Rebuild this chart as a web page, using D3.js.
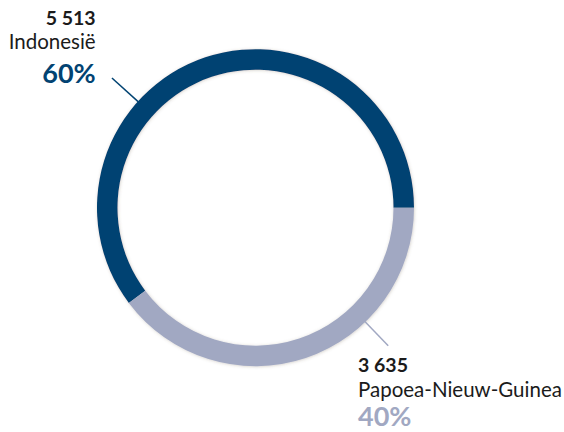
<!DOCTYPE html>
<html>
<head>
<meta charset="utf-8">
<script src="https://cdn.jsdelivr.net/npm/d3@7"></script>
<style>
  html, body { margin: 0; padding: 0; background: #ffffff; }
  svg { display: block; }
  text { font-family: Lato, "Open Sans", sans-serif; }
</style>
</head>
<body>
<div id="chart"></div>
<script>
const categories = ["Indonesië", "Papoea-Nieuw-Guinea"];
const values = [5513, 3635];
const valueLabels = ["5 513", "3 635"];
const percentLabels = ["60%", "40%"];
const colors = ["#024372", "#a1a8c2"];

const W = 564, H = 432;
const cx = 255.5, cy = 207.7;
const outerR = 158.5, innerR = 138;

const svg = d3.select("#chart").append("svg")
  .attr("width", W).attr("height", H);

const defs = svg.append("defs");
const f = defs.append("filter").attr("id", "shadow")
  .attr("x", "-20%").attr("y", "-20%").attr("width", "140%").attr("height", "140%");
f.append("feDropShadow").attr("dx", 0.5).attr("dy", 0.5)
  .attr("stdDeviation", 1.6).attr("flood-color", "#6b5a48").attr("flood-opacity", 0.3);

// Start at 3 o'clock; Indonesia runs counterclockwise over the top.
const start = Math.PI / 2;
const pie = d3.pie().sort(null).value(d => d)
  .startAngle(start + 2 * Math.PI).endAngle(start);
const arcs = pie(values);

const arc = d3.arc().innerRadius(innerR).outerRadius(outerR);

const g = svg.append("g").attr("transform", `translate(${cx},${cy})`);
g.append("g").attr("filter", "url(#shadow)")
  .selectAll("path").data(arcs).enter().append("path")
  .attr("d", arc)
  .attr("fill", (d, i) => colors[i]);

// leader lines
const leaders = [
  { angle: -0.836, len: 35 },
  { angle: 2.376, len: 33 }
];
function pt(a, r) { return [Math.sin(a) * r, -Math.cos(a) * r]; }
leaders.forEach((l, i) => {
  const p0 = pt(l.angle, outerR - 1);
  const p1 = pt(l.angle, outerR + l.len);
  g.append("line")
    .attr("x1", p0[0]).attr("y1", p0[1])
    .attr("x2", p1[0]).attr("y2", p1[1])
    .attr("stroke", colors[i]).attr("stroke-width", 1.5);
});

// labels
const lab = [
  { x: 95.7, anchor: "end", y: [25, 49, 83] },
  { x: 358, anchor: "start", y: [372, 397, 426] }
];
lab.forEach((L, i) => {
  svg.append("text").attr("x", L.x).attr("y", L.y[0])
    .attr("text-anchor", L.anchor)
    .attr("font-size", 19.5).attr("font-weight", 700).attr("fill", "#1b1b1b")
    .text(valueLabels[i]);
  svg.append("text").attr("x", L.x).attr("y", L.y[1])
    .attr("text-anchor", L.anchor)
    .attr("font-size", 20.5).attr("font-weight", 400).attr("fill", "#1b1b1b")
    .text(categories[i]);
  svg.append("text").attr("x", L.x).attr("y", L.y[2])
    .attr("text-anchor", L.anchor)
    .attr("font-size", 27).attr("font-weight", 700).attr("fill", colors[i])
    .text(percentLabels[i]);
});
</script>
</body>
</html>
